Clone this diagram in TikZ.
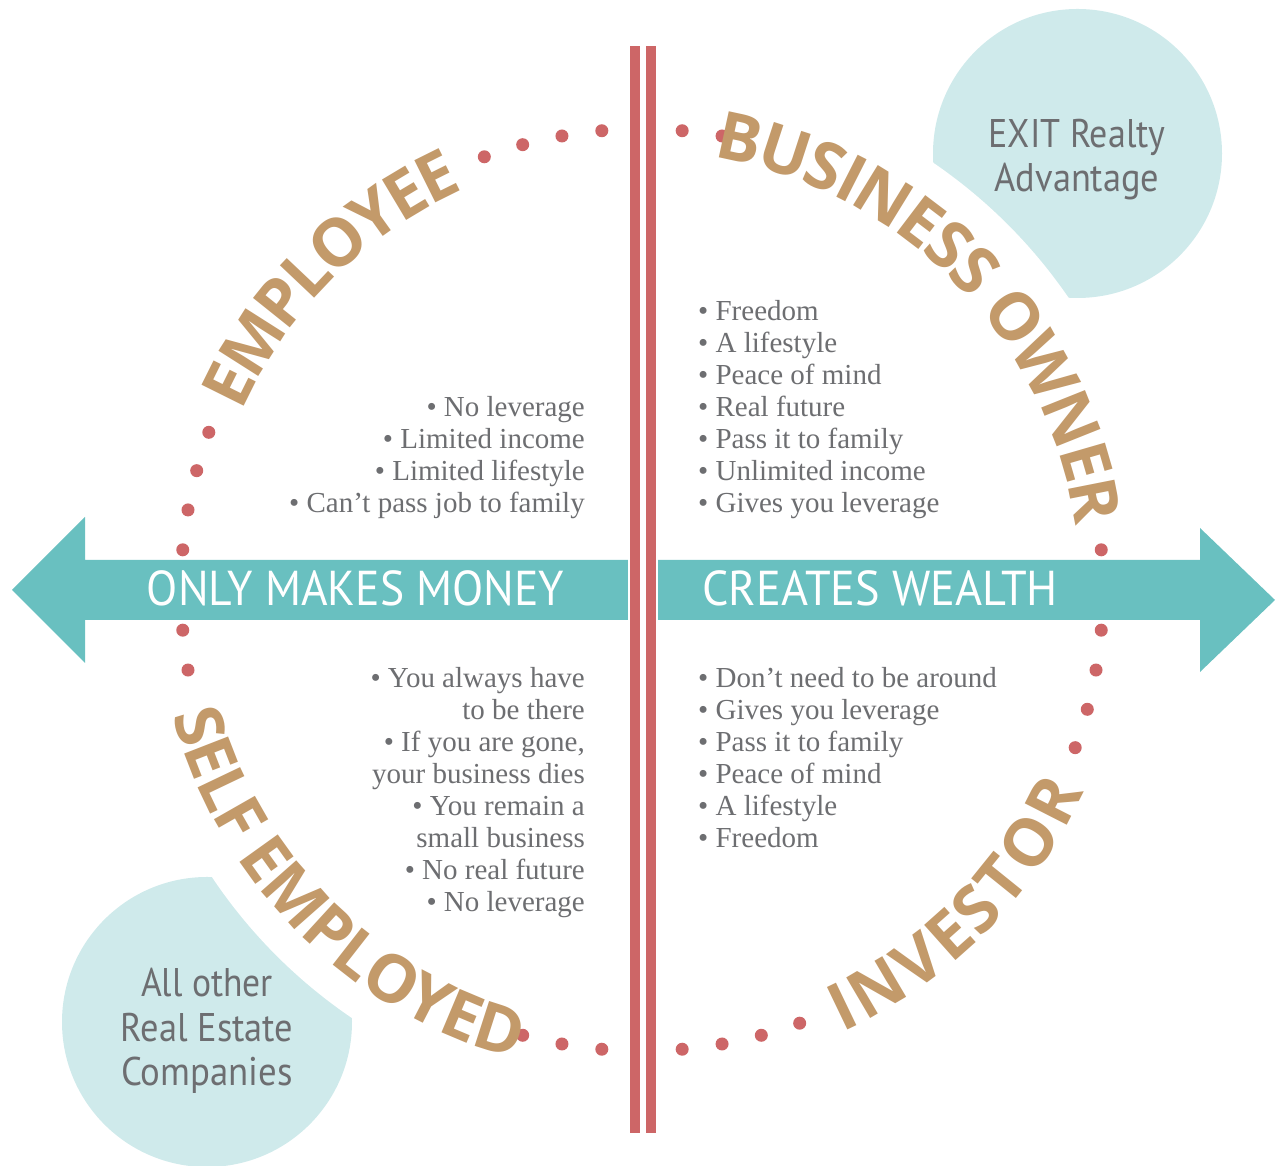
\documentclass[tikz,border=0pt]{standalone}
\usepackage{fontspec}
\usepackage{graphicx}
\usetikzlibrary{calc}
\setmainfont{Liberation Serif}
\newfontfamily\sansfam{PT Sans}
\newfontfamily\arcfam{Open Sans}
\definecolor{tanc}{HTML}{C39A6A}
\definecolor{redc}{HTML}{CD6667}
\definecolor{tealc}{HTML}{69C0C0}
\definecolor{lightc}{HTML}{CFEAEB}
\definecolor{grayc}{HTML}{6D6E71}
\newcommand\arcfont{\arcfam\bfseries\fontsize{66}{66}\selectfont}
\def\arcR{462}
\newsavebox\arcbox
% measure letter widths outside the picture
\newcommand\measureword[2]{%
  \gdef\arcW{0}\gdef\arcN{0}%
  \foreach \ch [count=\k] in {#2}{%
    \sbox\arcbox{\arcfont\ch}%
    \expandafter\xdef\csname aw#1\k\endcsname{\the\wd\arcbox}%
    \pgfmathsetmacro\tmpA{\arcW+\the\wd\arcbox}\xdef\arcW{\tmpA}%
    \xdef\arcN{\k}%
  }%
  \expandafter\xdef\csname awtot#1\endcsname{\arcW}%
  \expandafter\xdef\csname awn#1\endcsname{\arcN}%
}
\AtBeginDocument{%
  \measureword{emp}{E,M,P,L,O,Y,E,E}%
  \measureword{bus}{B,U,S,I,N,E,S,S,~,O,W,N,E,R}%
  \measureword{self}{S,E,L,F,~,E,M,P,L,O,Y,E,D}%
  \measureword{inv}{I,N,V,E,S,T,O,R}%
}
\newcommand\arcword[6]{%
  \edef\thistot{\csname awtot#1\endcsname}%
  \edef\thisn{\csname awn#1\endcsname}%
  \pgfmathsetmacro\arcT{(#5*pi/180*\arcR - \thistot)/\thisn}%
  \pgfmathsetmacro\tmpS{#2 - #3*#5/2}\xdef\arcAng{\tmpS}%
  \foreach \ch [count=\k] in {#6}{%
    \edef\thisw{\csname aw#1\k\endcsname}%
    \pgfmathsetmacro\halfang{(\thisw+\arcT)/2/\arcR*180/pi}%
    \pgfmathsetmacro\ang{\arcAng + #3*\halfang}%
    \node[arcletter, rotate=\ang+#4] (#1\k) at ($(C)+(\ang:\arcR)$) {\ch};
    \pgfmathsetmacro\tmpS{\arcAng + #3*2*\halfang}\xdef\arcAng{\tmpS}%
  }%
}
\tikzset{
  arcletter/.style={inner sep=0pt, text height=47pt, text depth=0pt, anchor=center, text=tanc, font=\arcfont},
  bul/.style={inner sep=0pt, text=grayc, font=\fontsize{29}{32}\selectfont},
  circtext/.style={inner sep=0pt, text=grayc, font=\sansfam\fontsize{40}{44}\selectfont, anchor=base},
  arrowtext/.style={inner sep=0pt, text=white, font=\sansfam\fontsize{49}{49}\selectfont, anchor=base},
  reddot/.style={fill=redc},
}
\begin{document}
\begin{tikzpicture}[x=1pt,y=1pt]
\useasboundingbox (0,0) rectangle (1278,1166);
\clip (0,0) rectangle (1278,1166);
\coordinate (C) at (642,576);
% light circles
\fill[lightc] (1077.5,1012.5) circle (144.5);
\fill[lightc] (207,144) circle (145);
\fill[white] (C) circle (517);
% arrows
\fill[tealc] (629,546) -- (85,546) -- (85,503) -- (12,576) -- (85,649) -- (85,606) -- (629,606) -- cycle;
\fill[tealc] (656,546) -- (1200,546) -- (1200,494) -- (1275,566) -- (1200,638) -- (1200,606) -- (656,606) -- cycle;
% bars
\fill[white] (627.5,33) rectangle (658,1120);
\fill[redc] (629.5,33) rectangle (640,1120);
\fill[redc] (645.5,33) rectangle (656,1120);
% dots
\foreach \a in {80,85,95,100,105,110,160,165,170,175,185,190,255,260,265,275,280,285,290,340,345,350,355,5}
  \fill[reddot] ($(C)+(\a:461)$) circle (6.5);
% arc words
\arcword{emp}{135}{-1}{-90}{41.5}{E,M,P,L,O,Y,E,E}
\arcword{bus}{44.5}{-1}{-90}{72}{B,U,S,I,N,E,S,S,~,O,W,N,E,R}
\arcword{self}{225}{1}{90}{60}{S,E,L,F,~,E,M,P,L,O,Y,E,D}
\arcword{inv}{315}{1}{90}{41.5}{I,N,V,E,S,T,O,R}
% arrow texts
\node[arrowtext] (money) at (355.5,560) {\scalebox{0.93}[1]{ONLY MAKES MONEY}};
\node[arrowtext] (wealth) at (880,560) {\scalebox{0.945}[1]{CREATES WEALTH}};
% circle texts
\node[circtext] (exit1) at (1077,1018) {\scalebox{0.9}[1]{EXIT Realty}};
\node[circtext] (exit2) at (1077,974) {\scalebox{0.91}[1]{Advantage}};
\node[circtext] (oth1) at (207,169) {\scalebox{0.89}[1]{All other}};
\node[circtext] (oth2) at (207,124) {\scalebox{0.91}[1]{Real Estate}};
\node[circtext] (oth3) at (207,80) {\scalebox{0.92}[1]{Companies}};
% bullet blocks
\foreach \t [count=\i] in {{• No leverage},{• Limited income},{• Limited lifestyle},{• Can’t pass job to family}}
  \node[bul, anchor=base east] (lu\i) at (585,{749-32*(\i-1)}) {\t};
\foreach \t [count=\i] in {{• Freedom},{• A lifestyle},{• Peace of mind},{• Real future},{• Pass it to family},{• Unlimited income},{• Gives you leverage}}
  \node[bul, anchor=base west] (ru\i) at (698,{845-32*(\i-1)}) {\t};
\foreach \t [count=\i] in {{• Don’t need to be around},{• Gives you leverage},{• Pass it to family},{• Peace of mind},{• A lifestyle},{• Freedom}}
  \node[bul, anchor=base west] (rl\i) at (698,{478-32*(\i-1)}) {\t};
\foreach \t [count=\i] in {{• You always have},{to be there},{• If you are gone,},{your business dies},{• You remain a},{small business},{• No real future},{• No leverage}}
  \node[bul, anchor=base east] (ll\i) at (585,{478-32*(\i-1)}) {\t};
\end{tikzpicture}
\end{document}
